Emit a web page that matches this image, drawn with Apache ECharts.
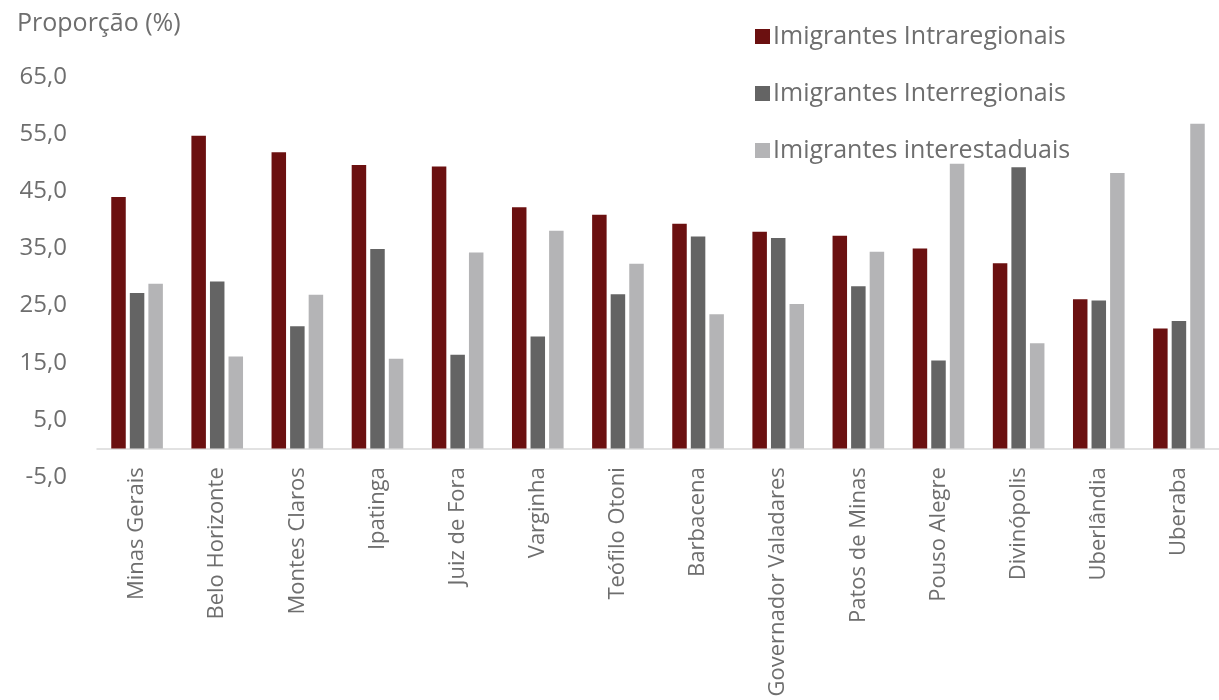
<!DOCTYPE html>
<html>
<head>
<meta charset="utf-8">
<script src="https://cdn.jsdelivr.net/npm/echarts@6/dist/echarts.min.js"></script>
<style>
  html, body { margin: 0; padding: 0; background: #fff; }
  #chart { width: 1219px; height: 700px; }
</style>
</head>
<body>
<div id="chart"></div>
<script>
// Municípios (and the state total) on the category axis
const cities = [
  'Minas Gerais', 'Belo Horizonte', 'Montes Claros', 'Ipatinga', 'Juiz de Fora',
  'Varginha', 'Teófilo Otoni', 'Barbacena', 'Governador Valadares', 'Patos de Minas',
  'Pouso Alegre', 'Divinópolis', 'Uberlândia', 'Uberaba'
];

// Share of each migrant group (%)
const intraregionais = [44.0, 54.7, 51.8, 49.6, 49.3, 42.2, 40.9, 39.3, 37.9, 37.2, 35.0, 32.4, 26.1, 21.0];
const interregionais = [27.2, 29.2, 21.4, 34.9, 16.4, 19.6, 27.0, 37.1, 36.8, 28.4, 15.4, 49.2, 25.9, 22.3];
const interestaduais = [28.8, 16.1, 26.9, 15.7, 34.3, 38.1, 32.3, 23.5, 25.3, 34.4, 49.8, 18.4, 48.2, 56.8];

const seriesNames = ['Imigrantes Intraregionais', 'Imigrantes Interregionais', 'Imigrantes interestaduais'];
const seriesColors = ['#6b1010', '#646464', '#b4b4b6'];

// Value axis range
const yMin = -5, yMax = 65, yStep = 10;

const FONT = '"Open Sans", "Noto Sans", sans-serif';
const TEXT = '#6e6e6e';

const chart = echarts.init(document.getElementById('chart'), null, { renderer: 'canvas' });

const seriesData = [intraregionais, interregionais, interestaduais];

chart.setOption({
  backgroundColor: '#ffffff',
  animation: false,
  textStyle: { fontFamily: FONT },
  title: {
    text: 'Proporção (%)',
    left: 12, top: 6,
    textStyle: { fontFamily: FONT, fontSize: 25, fontWeight: 'normal', color: TEXT }
  },
  legend: {
    orient: 'vertical',
    left: 750, top: 15,
    itemWidth: 15, itemHeight: 15,
    itemGap: 24,
    icon: 'rect',
    textStyle: { fontFamily: FONT, fontSize: 25, color: TEXT, lineHeight: 33, padding: [0, 0, 0, -2] },
    data: seriesNames
  },
  grid: {
    left: 97, top: 76.8, width: 1132, height: 400.4,
    containLabel: false
  },
  xAxis: {
    type: 'category',
    data: cities,
    axisLine: { onZero: true, lineStyle: { color: '#d9d9d9', width: 1.5 } },
    axisTick: { show: false },
    axisLabel: {
      interval: 0, rotate: 90, margin: -10,
      fontFamily: FONT, fontSize: 22, color: TEXT
    }
  },
  yAxis: {
    type: 'value',
    min: yMin, max: yMax, interval: yStep,
    axisLine: { show: false },
    axisTick: { show: false },
    splitLine: { show: false },
    axisLabel: {
      margin: 30,
      fontFamily: FONT, fontSize: 24, color: TEXT,
      formatter: v => v.toFixed(1).replace('.', ',')
    }
  },
  series: seriesNames.map((name, i) => ({
    name,
    type: 'bar',
    data: seriesData[i],
    barWidth: 14.5,
    barGap: '28%',
    itemStyle: { color: seriesColors[i] }
  }))
});
</script>
</body>
</html>
